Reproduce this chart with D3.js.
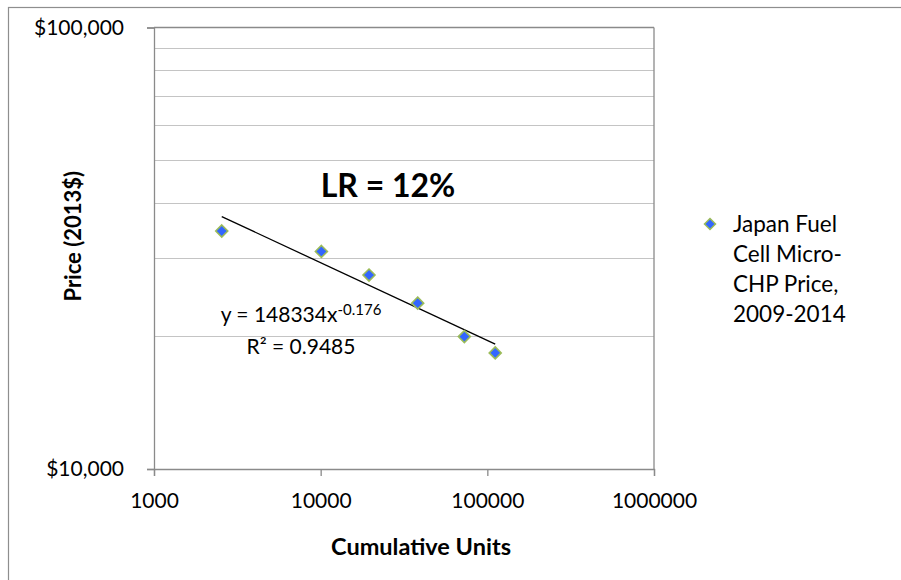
<!DOCTYPE html>
<html>
<head>
<meta charset="utf-8">
<script src="https://cdn.jsdelivr.net/npm/d3@7"></script>
<style>
  body { margin: 0; background: #fff; }
  text { font-family: Lato, "Open Sans", sans-serif; fill: #000; }
</style>
</head>
<body>
<div id="chart"></div>
<script>
// cumulative units vs price (2013$)
const units = [2550, 10100, 19500, 38200, 72800, 111500];
const prices = [34600, 31100, 27500, 23750, 19950, 18320];
const xTicks = [1000, 10000, 100000, 1000000];
const yTicks = [10000, 100000];
const yGrid = [20000, 30000, 40000, 50000, 60000, 70000, 80000, 90000];
const seriesName = ['Japan Fuel', 'Cell Micro-', 'CHP Price,', '2009-2014'];

// power trendline y = a * x^b
const trendA = 148334;
const trendB = -0.176;

const width = 901, height = 580;
const margin = [27.5, 247, 111, 154]; // top right bottom left

const svg = d3.select('#chart').append('svg')
    .attr('width', width)
    .attr('height', height);

// outer chart border
svg.append('rect')
    .attr('x', 8.5).attr('y', 7.5)
    .attr('width', 1000).attr('height', 1000)
    .attr('fill', 'none')
    .attr('stroke', '#8e8e8e')
    .attr('stroke-width', 1.2);

const x = d3.scaleLog()
    .domain([1000, 1000000])
    .range([margin[3], width - margin[1]]);
const y = d3.scaleLog()
    .domain([10000, 100000])
    .range([height - margin[2], margin[0]]);

const plot = svg.append('g');

// minor gridlines
plot.selectAll('line.grid')
    .data(yGrid)
    .join('line')
    .classed('grid', true)
    .attr('x1', x.range()[0]).attr('x2', x.range()[1])
    .attr('y1', d => Math.round(y(d)) + 0.5).attr('y2', d => Math.round(y(d)) + 0.5)
    .attr('stroke', '#c4c4c4')
    .attr('stroke-width', 1.2);

// major gridline at top + right edge
plot.append('line')
    .attr('x1', x.range()[0]).attr('x2', x.range()[1])
    .attr('y1', y(100000)).attr('y2', y(100000))
    .attr('stroke', '#8a8a8a').attr('stroke-width', 1.3);
plot.append('line')
    .attr('x1', x(1000000)).attr('x2', x(1000000))
    .attr('y1', y(100000)).attr('y2', y(10000))
    .attr('stroke', '#8a8a8a').attr('stroke-width', 1.3);

// axes
const yAxis = svg.append('g')
    .attr('transform', `translate(${x(1000)},0)`)
    .call(d3.axisLeft(y).tickValues(yTicks).tickFormat(d3.format('$,')).tickSize(7).tickPadding(23));
const xAxis = svg.append('g')
    .attr('transform', `translate(0,${y(10000)})`)
    .call(d3.axisBottom(x).tickValues(xTicks).tickFormat(d => d).tickSize(7).tickPadding(17));

[xAxis, yAxis].forEach(a => {
    a.select('.domain').attr('stroke', '#8a8a8a').attr('stroke-width', 1.3);
    a.selectAll('.tick line').attr('stroke', '#8a8a8a').attr('stroke-width', 1.3);
    a.selectAll('.tick text')
        .attr('fill', '#000')
        .style('font-family', 'Lato, sans-serif')
        .style('font-size', '21px');
});

// trendline
const trend = [units[0], units[units.length - 1]].map(u => [u, trendA * Math.pow(u, trendB)]);
plot.append('path')
    .datum(trend)
    .attr('d', d3.line().x(d => x(d[0])).y(d => y(d[1])))
    .attr('fill', 'none')
    .attr('stroke', '#000')
    .attr('stroke-width', 1.3);

// diamond marker, r = half diagonal
const diamondPath = r => `M0,${-r}L${r},0L0,${r}L${-r},0Z`;

// points
plot.selectAll('path.point')
    .data(units.map((u, i) => [u, prices[i]]))
    .join('path')
    .classed('point', true)
    .attr('d', diamondPath(6))
    .attr('transform', d => `translate(${x(d[0])},${y(d[1])})`)
    .attr('fill', '#3366ff')
    .attr('stroke', '#9bbb59')
    .attr('stroke-width', 1.6);

// LR label
svg.append('text')
    .attr('x', 388).attr('y', 197)
    .attr('text-anchor', 'middle')
    .style('font-size', '32px')
    .style('font-weight', 'bold')
    .text('LR = 12%');

// trendline equation
const eq = svg.append('text')
    .attr('x', 301).attr('y', 321.5)
    .attr('text-anchor', 'middle')
    .style('font-size', '21px');
eq.append('tspan').text(`y = ${trendA}x`);
eq.append('tspan').attr('dy', -7).style('font-size', '15px').text(`${trendB}`);

svg.append('text')
    .attr('x', 301).attr('y', 353.5)
    .attr('text-anchor', 'middle')
    .style('font-size', '21px')
    .text('R² = 0.9485');

// axis titles
svg.append('text')
    .attr('transform', `translate(81,${(y.range()[0] + y.range()[1]) / 2 - 12}) rotate(-90)`)
    .attr('text-anchor', 'middle')
    .style('font-size', '22px')
    .style('font-weight', 'bold')
    .text('Price (2013$)');

svg.append('text')
    .attr('x', 421).attr('y', 555)
    .attr('text-anchor', 'middle')
    .style('font-size', '23.5px')
    .style('font-weight', 'bold')
    .text('Cumulative Units');

// legend
const legend = svg.append('g');
legend.append('path')
    .attr('d', diamondPath(5.5))
    .attr('transform', 'translate(710,224)')
    .attr('fill', '#3366ff')
    .attr('stroke', '#9bbb59')
    .attr('stroke-width', 1.5);
legend.selectAll('text')
    .data(seriesName)
    .join('text')
    .attr('x', 733)
    .attr('y', (d, i) => 231.5 + i * 30.3)
    .style('font-size', '22.5px')
    .text(d => d);
</script>
</body>
</html>
